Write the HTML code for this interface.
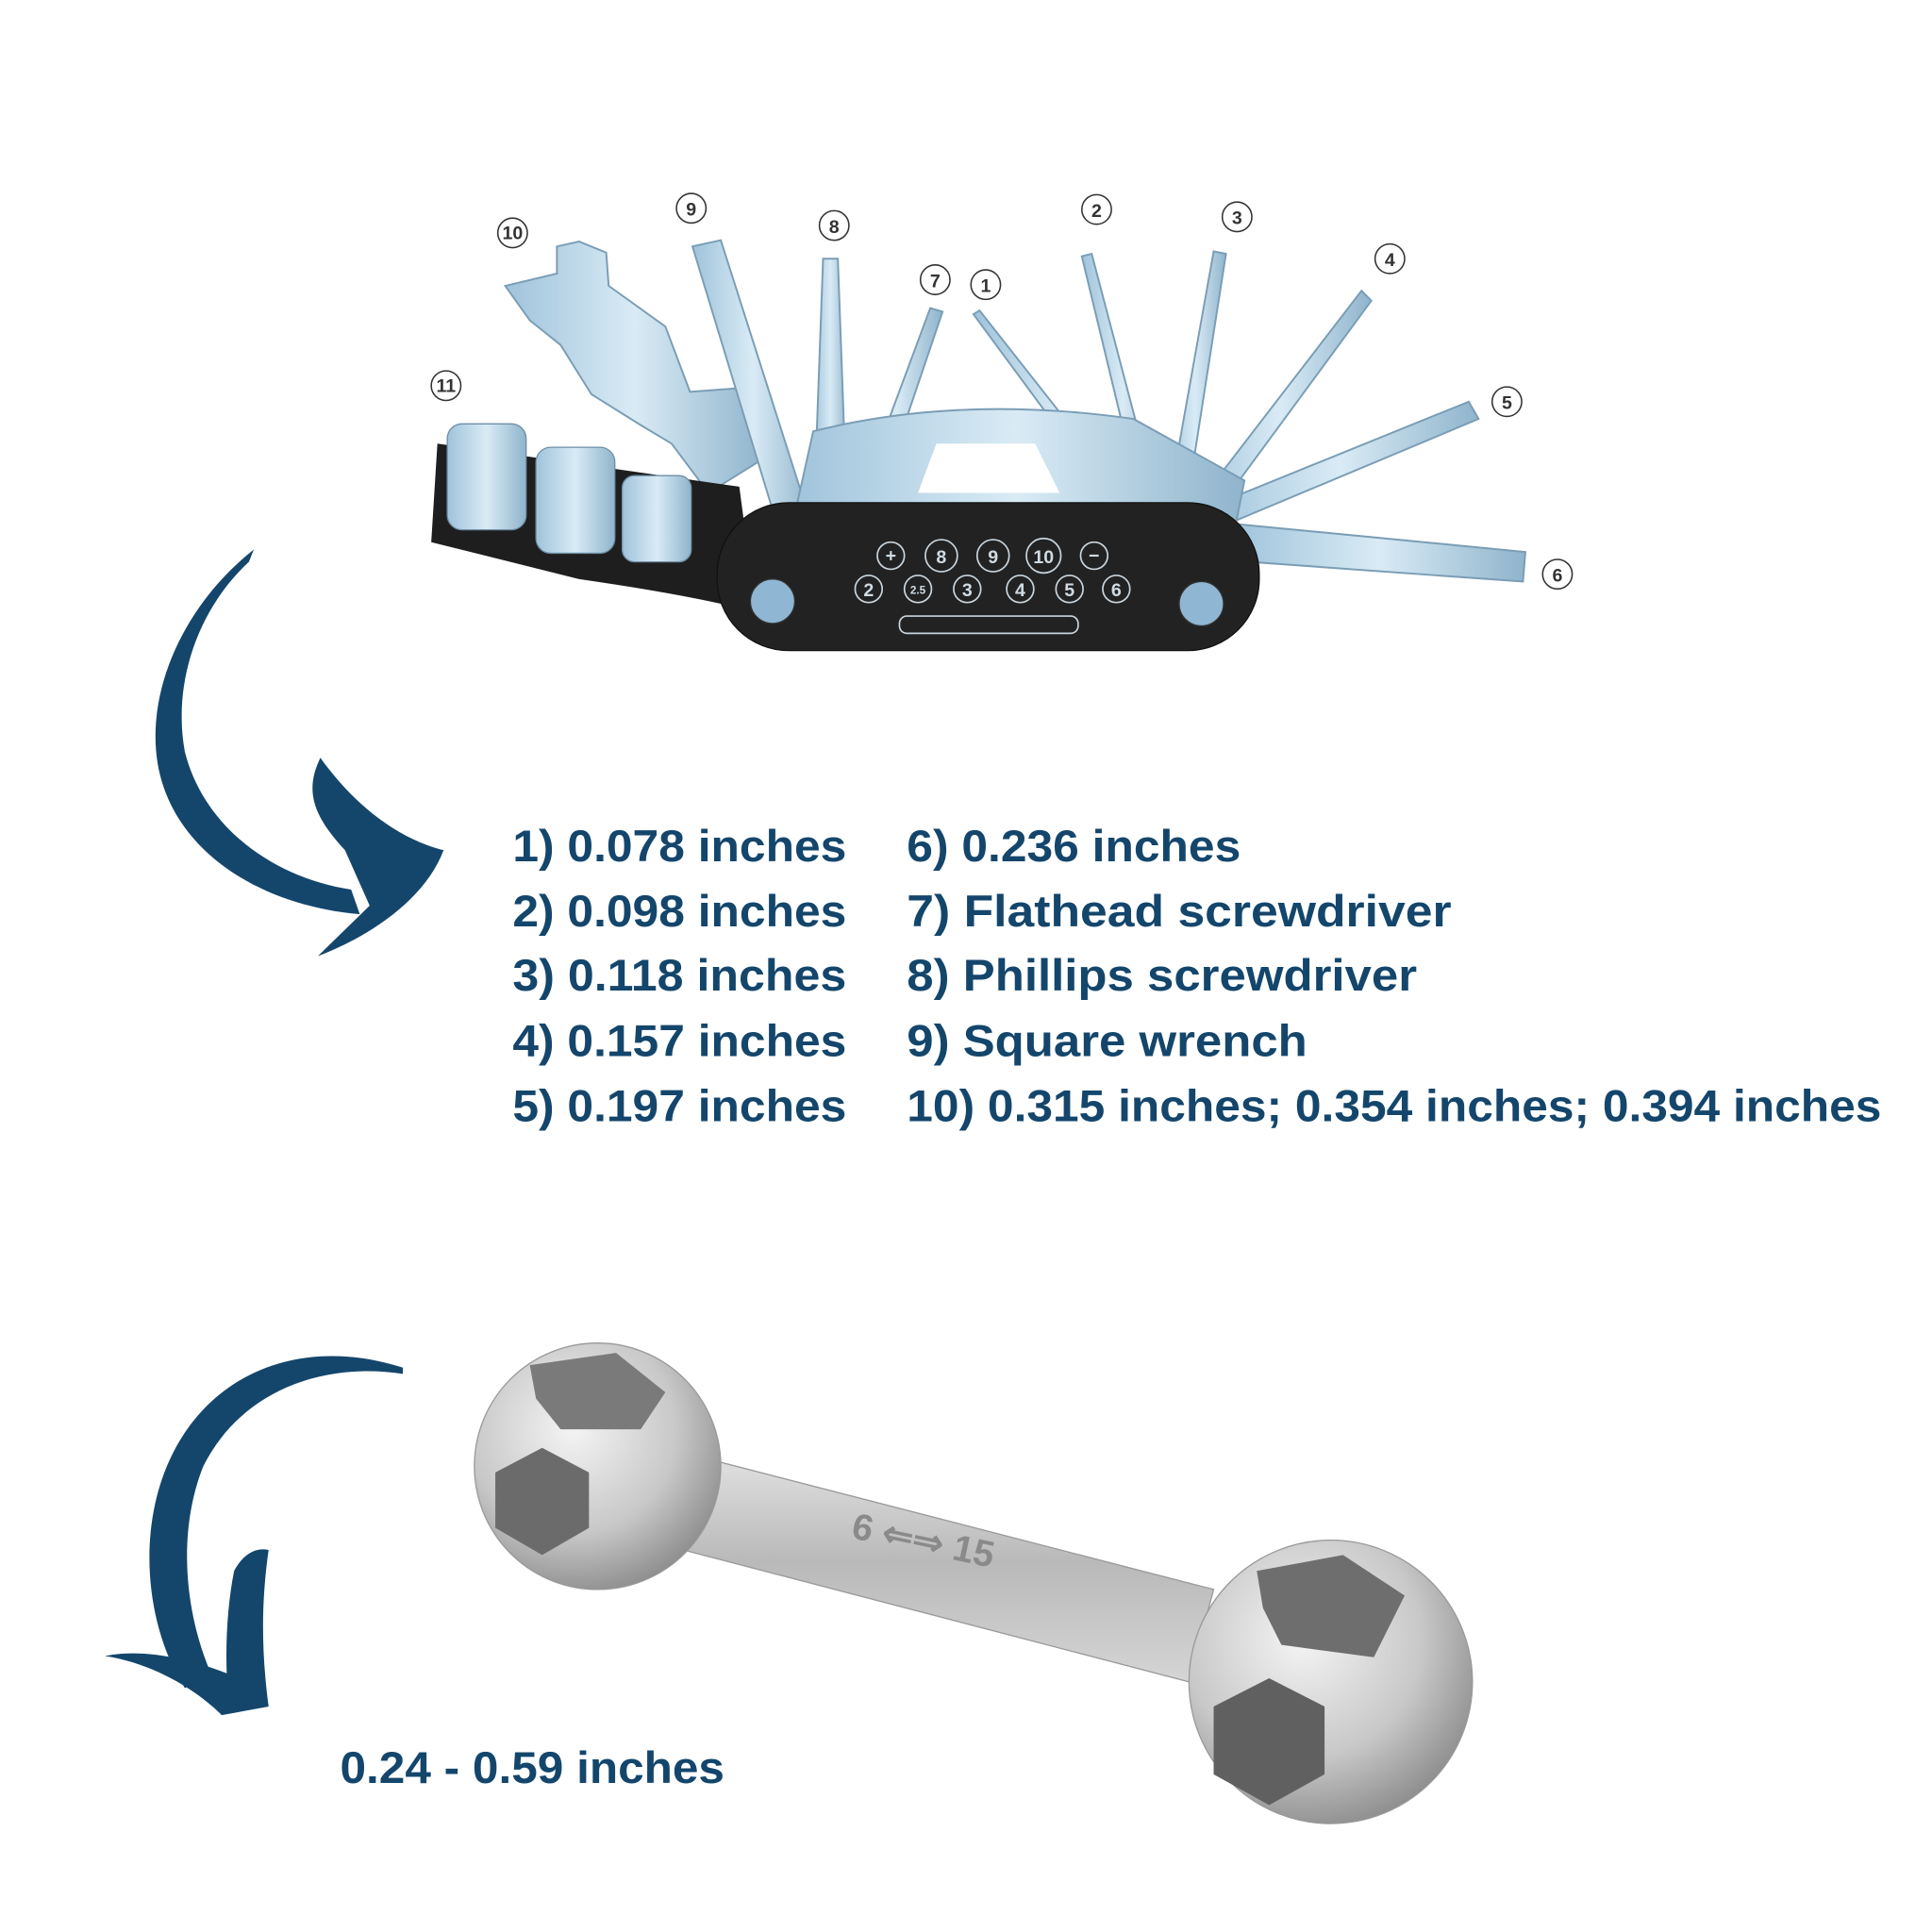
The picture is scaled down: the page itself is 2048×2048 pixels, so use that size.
<!DOCTYPE html>
<html><head><meta charset="utf-8"><style>
html,body{margin:0;padding:0;background:#fff;}
svg{display:block;}
text{font-family:"Liberation Sans",sans-serif;font-weight:bold;}
</style></head><body>
<svg width="2048" height="2048" viewBox="0 0 1568 1568" xmlns="http://www.w3.org/2000/svg">
<defs>
<linearGradient id="steel" x1="0" y1="0" x2="1" y2="0"><stop offset="0" stop-color="#9fc3db"/><stop offset=".5" stop-color="#d9ebf5"/><stop offset="1" stop-color="#8fb4cc"/></linearGradient>
<radialGradient id="chrome" cx=".4" cy=".35" r=".7"><stop offset="0" stop-color="#f4f4f4"/><stop offset=".6" stop-color="#c8c8c8"/><stop offset="1" stop-color="#8a8a8a"/></radialGradient>
<linearGradient id="bar" x1="0" y1="0" x2="0" y2="1"><stop offset="0" stop-color="#e6e6e6"/><stop offset=".5" stop-color="#b9b9b9"/><stop offset="1" stop-color="#d5d5d5"/></linearGradient>
</defs>

<g stroke="#7a9db5" stroke-width="1.5" fill="url(#steel)">
<polygon points="410,232 452,222 452,200 470,196 492,205 494,232 540,265 560,318 600,315 620,372 575,400 545,360 520,345 480,320 455,280 430,260"/>
<polygon points="562,200 585,195 660,430 635,440"/>
<polygon points="668,210 680,210 688,430 660,430"/>
<polygon points="755,250 765,253 705,430 690,425"/>
<polygon points="790,255 795,252 935,430 925,438"/>
<polygon points="878,208 886,206 945,430 932,432"/>
<polygon points="985,204 995,206 960,430 945,428"/>
<polygon points="1105,236 1113,244 980,425 965,418"/>
<polygon points="1192,326 1200,340 985,430 975,414"/>
<polygon points="1000,425 1238,448 1236,472 1000,455"/>
<path d="M640,440 L660,350 Q780,320 920,340 L1010,390 L1000,440 Z"/>
</g>
<path d="M745,400 L760,360 L840,360 L860,400 Z" fill="#fff"/>
<path d="M355,360 L600,395 L610,470 L585,490 Q540,480 470,470 L350,440 Z" fill="#1e1e1e"/>
<g fill="url(#steel)" stroke="#6f8ea5">
<rect x="363" y="344" width="64" height="86" rx="12"/>
<rect x="435" y="363" width="64" height="86" rx="12"/>
<rect x="505" y="386" width="56" height="70" rx="10"/>
</g>
<rect x="582" y="408" width="440" height="120" rx="58" fill="#222" stroke="#111"/>
<g fill="none" stroke="#c9d5de" stroke-width="1.3">
<circle cx="723" cy="451" r="11"/><circle cx="764" cy="451" r="13"/><circle cx="806" cy="451" r="13"/><circle cx="847" cy="451" r="14"/><circle cx="888" cy="451" r="11"/>
<circle cx="705" cy="478" r="11"/><circle cx="745" cy="478" r="11"/><circle cx="785" cy="478" r="11"/><circle cx="828" cy="478" r="11"/><circle cx="868" cy="478" r="11"/><circle cx="906" cy="478" r="11"/>
<rect x="730" y="500" width="145" height="14" rx="6"/>
</g>
<g fill="#d0dbe3" font-size="15" text-anchor="middle" style="font-weight:normal">
<text x="723" y="456">+</text><text x="764" y="457">8</text><text x="806" y="457">9</text><text x="847" y="457">10</text><text x="888" y="456">−</text>
<text x="705" y="484">2</text><text x="745" y="482" font-size="9">2.5</text><text x="785" y="484">3</text><text x="828" y="484">4</text><text x="868" y="484">5</text><text x="906" y="484">6</text>
</g>
<circle cx="627" cy="488" r="18" fill="#8fb6d2" stroke="#333"/>
<circle cx="975" cy="490" r="18" fill="#8fb6d2" stroke="#333"/>

<g fill="none" stroke="#333" stroke-width="1.2">
<circle cx="416" cy="189" r="12"/><circle cx="561" cy="169" r="12"/><circle cx="677" cy="183" r="12"/><circle cx="759" cy="227" r="12"/><circle cx="800" cy="231" r="12"/>
<circle cx="890" cy="170" r="12"/><circle cx="1004" cy="176" r="12"/><circle cx="1128" cy="210" r="12"/><circle cx="1223" cy="326" r="12"/><circle cx="1264" cy="466" r="12"/><circle cx="362" cy="313" r="12"/>
</g>
<g fill="#333" font-size="15" text-anchor="middle" style="font-weight:normal">
<text x="416" y="194">10</text><text x="561" y="175">9</text><text x="677" y="189">8</text><text x="759" y="233">7</text><text x="800" y="237">1</text>
<text x="890" y="176">2</text><text x="1004" y="182">3</text><text x="1128" y="216">4</text><text x="1223" y="332">5</text><text x="1264" y="472">6</text><text x="362" y="318">11</text>
</g>

<!-- arrow 1 -->
<path d="M206,446 C150,490 118,560 128,620 C140,690 210,735 292,742 L285,722 C220,712 165,670 150,610 C140,555 160,495 202,456 Z" fill="#14466c"/>
<path d="M260,615 C248,640 252,660 280,690 L300,735 L258,776 C300,760 345,730 360,690 C320,680 285,650 260,615 Z" fill="#14466c"/>

<!-- arrow 2 -->
<path d="M327,1110 C250,1085 175,1110 140,1180 C110,1240 118,1320 150,1370 L172,1360 C148,1305 145,1240 165,1190 C195,1130 260,1105 327,1115 Z" fill="#14466c"/>
<path d="M85,1344 C125,1350 160,1372 180,1392 L218,1385 C212,1340 212,1300 218,1258 C205,1255 195,1265 190,1275 C185,1300 183,1330 184,1358 C150,1345 115,1338 85,1344 Z" fill="#14466c"/>

<!-- dumbbell wrench -->
<polygon points="520,1170 985,1290 965,1365 505,1245" fill="url(#bar)" stroke="#999"/>
<circle cx="485" cy="1190" r="100" fill="url(#chrome)" stroke="#999"/>
<polygon points="430,1108 500,1098 540,1130 520,1160 455,1160 435,1135" fill="#7a7a7a"/>
<polygon points="402,1195 440,1175 478,1195 478,1240 440,1262 402,1240" fill="#6b6b6b"/>
<circle cx="1080" cy="1365" r="115" fill="url(#chrome)" stroke="#999"/>
<polygon points="1020,1275 1090,1262 1140,1295 1115,1345 1040,1335 1025,1305" fill="#6e6e6e"/>
<polygon points="985,1385 1030,1362 1075,1385 1075,1440 1030,1465 985,1440" fill="#606060"/>
<g fill="#8a8a8a" font-size="30" style="font-weight:normal">
<text x="690" y="1248" transform="rotate(12 690 1248)">6 ⇐⇒ 15</text>
</g>

<g fill="#14466c" font-size="36">
<text x="416" y="699" textLength="271" lengthAdjust="spacingAndGlyphs">1) 0.078 inches</text>
<text x="416" y="752" textLength="271" lengthAdjust="spacingAndGlyphs">2) 0.098 inches</text>
<text x="416" y="804" textLength="271" lengthAdjust="spacingAndGlyphs">3) 0.118 inches</text>
<text x="416" y="857" textLength="271" lengthAdjust="spacingAndGlyphs">4) 0.157 inches</text>
<text x="416" y="910" textLength="271" lengthAdjust="spacingAndGlyphs">5) 0.197 inches</text>
<text x="736" y="699" textLength="271" lengthAdjust="spacingAndGlyphs">6) 0.236 inches</text>
<text x="736" y="752" textLength="442" lengthAdjust="spacingAndGlyphs">7) Flathead screwdriver</text>
<text x="736" y="804" textLength="414" lengthAdjust="spacingAndGlyphs">8) Phillips screwdriver</text>
<text x="736" y="857" textLength="325" lengthAdjust="spacingAndGlyphs">9) Square wrench</text>
<text x="736" y="910" textLength="791" lengthAdjust="spacingAndGlyphs">10) 0.315 inches; 0.354 inches; 0.394 inches</text>
<text x="276" y="1447" textLength="312" lengthAdjust="spacingAndGlyphs">0.24 - 0.59 inches</text>
</g>
</svg>
</body></html>
